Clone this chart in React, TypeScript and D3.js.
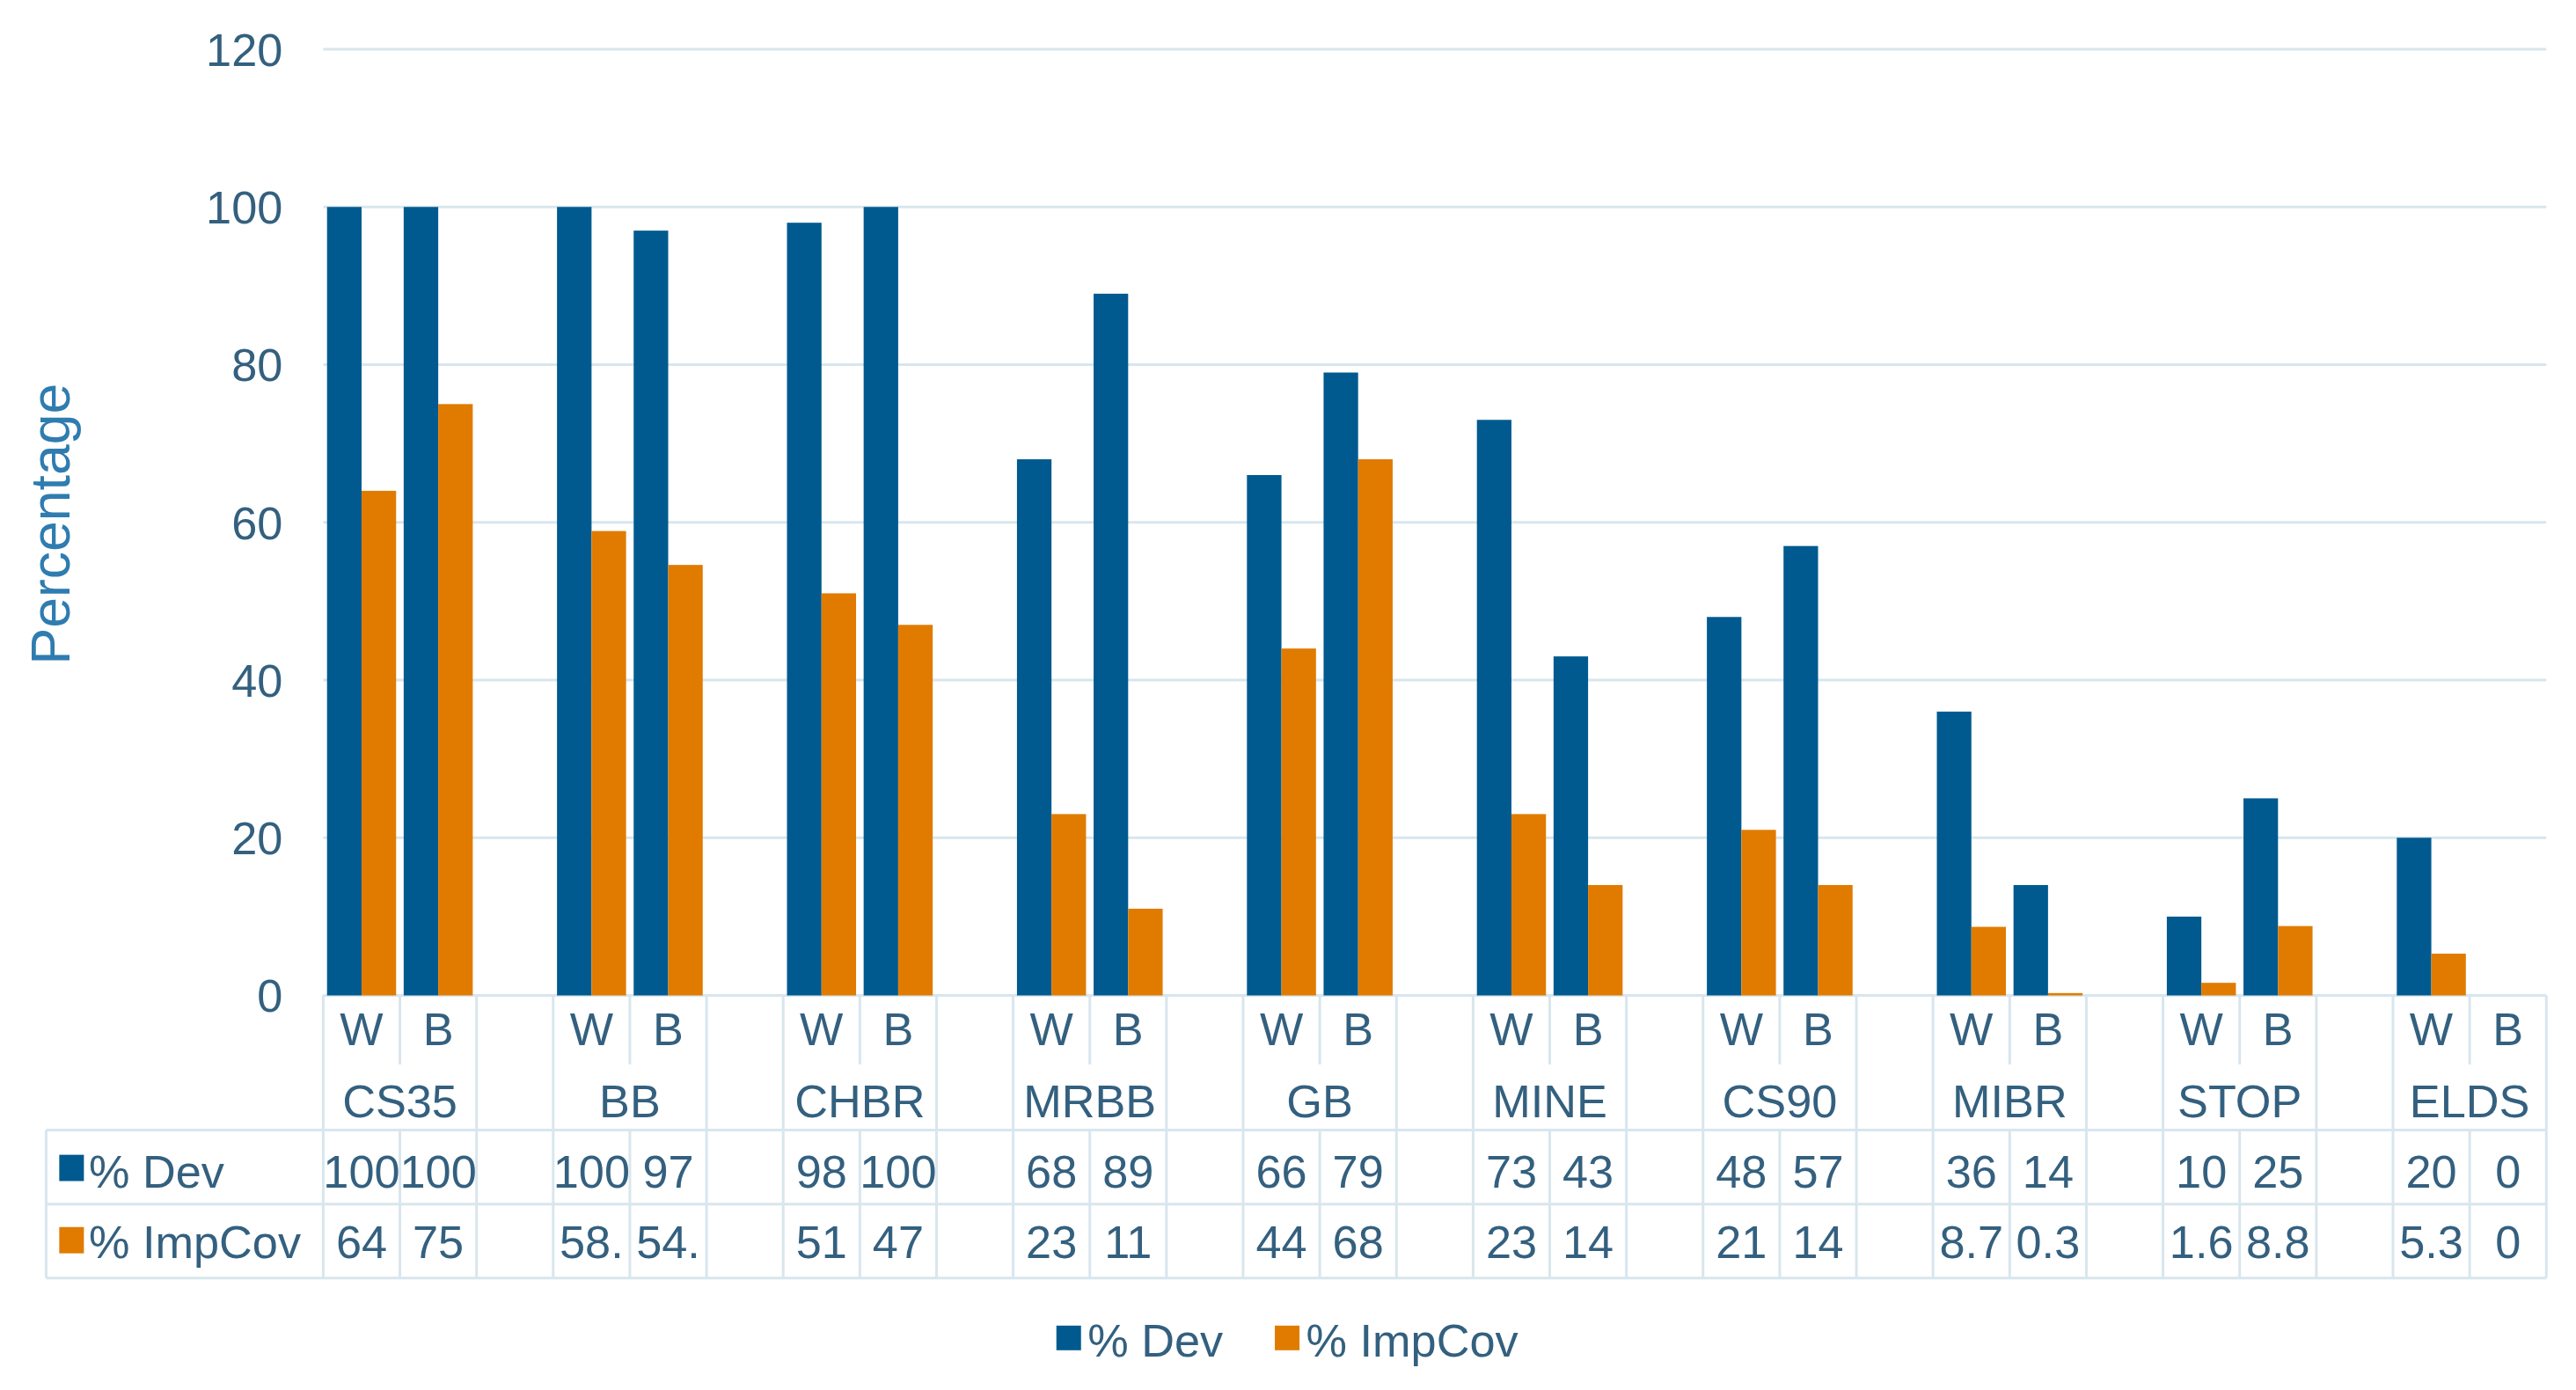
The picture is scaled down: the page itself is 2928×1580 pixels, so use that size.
import React from "react";
import * as d3 from "d3";

const categories = ["CS35", "BB", "CHBR", "MRBB", "GB", "MINE", "CS90", "MIBR", "STOP", "ELDS"];
const subgroups = ["W", "B"];
const seriesNames = ["% Dev", "% ImpCov"];
const devW = [100, 100, 98, 68, 66, 73, 48, 36, 10, 20];
const devB = [100, 97, 100, 89, 79, 43, 57, 14, 25, 0];
const impW = [64, 58.9, 51, 23, 44, 23, 21, 8.7, 1.6, 5.3];
const impB = [75, 54.6, 47, 11, 68, 14, 14, 0.3, 8.8, 0];
const yTicks = [0, 20, 40, 60, 80, 100, 120];

const COLORS = ["#005a8f", "#e07b00"];
const TEXT = "#34607f";
const TITLE = "#2f7cb0";
const GRID = "#d8e6ee";
const FONT = "'Liberation Sans', Arial, Helvetica, sans-serif";

type Slot = { idx: number; cat: number; sub: number | null };

function fmt(v: number): string {
  return String(v).slice(0, 3);
}

export default function App() {
  const W = 1568;
  const H = 846.2;
  const x0 = 196.7;
  const x1 = 1550;
  const yTop = 30;
  const yBase = 606;
  const rowSubBottom = 648;
  const rowCatBottom = 688;
  const rowDevBottom = 733;
  const rowImpBottom = 778;
  const tableLeft = 28;
  const fs = 28;

  const slots: Slot[] = [];
  categories.forEach((_, k) => {
    subgroups.forEach((_, j) => slots.push({ idx: slots.length, cat: k, sub: j }));
    if (k < categories.length - 1) slots.push({ idx: slots.length, cat: k, sub: null });
  });

  const xs = d3.scaleBand<number>().domain(slots.map((s) => s.idx)).range([x0, x1]).padding(0);
  const step = xs.bandwidth();
  const xi = d3.scaleBand<number>().domain([0, 1]).range([0, step]).paddingInner(0).paddingOuter(0.11);
  const y = d3.scaleLinear().domain([0, 120]).range([yBase, yTop]);

  const series = [
    [devW, devB],
    [impW, impB],
  ];

  const bars: JSX.Element[] = [];
  slots.forEach((s) => {
    if (s.sub === null) return;
    series.forEach((ser, si) => {
      const v = ser[s.sub as number][s.cat];
      const bx = (xs(s.idx) as number) + (xi(si) as number);
      bars.push(
        <rect
          key={`b${s.idx}-${si}`}
          x={bx}
          y={y(v)}
          width={xi.bandwidth()}
          height={yBase - y(v)}
          fill={COLORS[si]}
        />
      );
    });
  });

  // table vertical lines
  const vlines: JSX.Element[] = [];
  for (let i = 0; i <= slots.length; i++) {
    const x = i < slots.length ? (xs(i) as number) : x1;
    const prev = i > 0 ? slots[i - 1] : null;
    const internal = prev !== null && prev.sub === 0 && i < slots.length && slots[i].sub === 1;
    if (internal) {
      vlines.push(<line key={`v${i}a`} x1={x} x2={x} y1={yBase} y2={rowSubBottom} />);
      vlines.push(<line key={`v${i}b`} x1={x} x2={x} y1={rowCatBottom} y2={rowImpBottom} />);
    } else {
      vlines.push(<line key={`v${i}`} x1={x} x2={x} y1={yBase} y2={rowImpBottom} />);
    }
  }

  const cellTexts: JSX.Element[] = [];
  slots.forEach((s) => {
    if (s.sub === null) return;
    const cx = (xs(s.idx) as number) + step / 2;
    cellTexts.push(
      <text key={`s${s.idx}`} x={cx} y={636} textAnchor="middle">
        {subgroups[s.sub as number]}
      </text>
    );
    series.forEach((ser, si) => {
      cellTexts.push(
        <text key={`t${s.idx}-${si}`} x={cx} y={si === 0 ? 723 : 766} textAnchor="middle">
          {fmt(ser[s.sub as number][s.cat])}
        </text>
      );
    });
  });
  categories.forEach((c, k) => {
    const cx = (xs(k * 3) as number) + step;
    cellTexts.push(
      <text key={`c${k}`} x={cx} y={680} textAnchor="middle">
        {c}
      </text>
    );
  });

  return (
    <svg
      width={2928}
      height={1580}
      viewBox={`0 0 ${W} ${H}`}
      style={{ position: "absolute", left: 0, top: 0, background: "#fff" }}
      fontFamily={FONT}
    >
      <rect x={0} y={0} width={W} height={H} fill="#fff" />
      {/* gridlines */}
      <g stroke={GRID} strokeWidth={1.6}>
        {yTicks.map((t) => (
          <line key={t} x1={x0} x2={x1} y1={y(t)} y2={y(t)} />
        ))}
      </g>
      {/* y tick labels */}
      <g fill={TEXT} fontSize={fs} textAnchor="end">
        {yTicks.map((t) => (
          <text key={t} x={172} y={y(t)} dy="0.36em">
            {t}
          </text>
        ))}
      </g>
      <text
        transform={`translate(42,319) rotate(-90)`}
        textAnchor="middle"
        fill={TITLE}
        fontSize={33.5}
      >
        Percentage
      </text>
      {bars}
      {/* table lines */}
      <g stroke={GRID} strokeWidth={1.6}>
        {vlines}
        <line x1={tableLeft} x2={x1} y1={rowCatBottom} y2={rowCatBottom} />
        <line x1={tableLeft} x2={x1} y1={rowDevBottom} y2={rowDevBottom} />
        <line x1={tableLeft} x2={x1} y1={rowImpBottom} y2={rowImpBottom} />
        <line x1={tableLeft} x2={tableLeft} y1={rowCatBottom} y2={rowImpBottom} />
      </g>
      <g fill={TEXT} fontSize={fs}>
        {cellTexts}
        {seriesNames.map((n, si) => (
          <g key={n}>
            <rect x={36} y={si === 0 ? 703 : 747} width={15} height={16} fill={COLORS[si]} />
            <text x={54} y={si === 0 ? 723 : 766}>
              {n}
            </text>
          </g>
        ))}
      </g>
      {/* legend */}
      <g fill={TEXT} fontSize={fs}>
        {seriesNames.map((n, si) => {
          const lx = si === 0 ? 643 : 776;
          return (
            <g key={n}>
              <rect x={lx} y={807} width={15} height={15} fill={COLORS[si]} />
              <text x={lx + 19} y={826}>
                {n}
              </text>
            </g>
          );
        })}
      </g>
    </svg>
  );
}
